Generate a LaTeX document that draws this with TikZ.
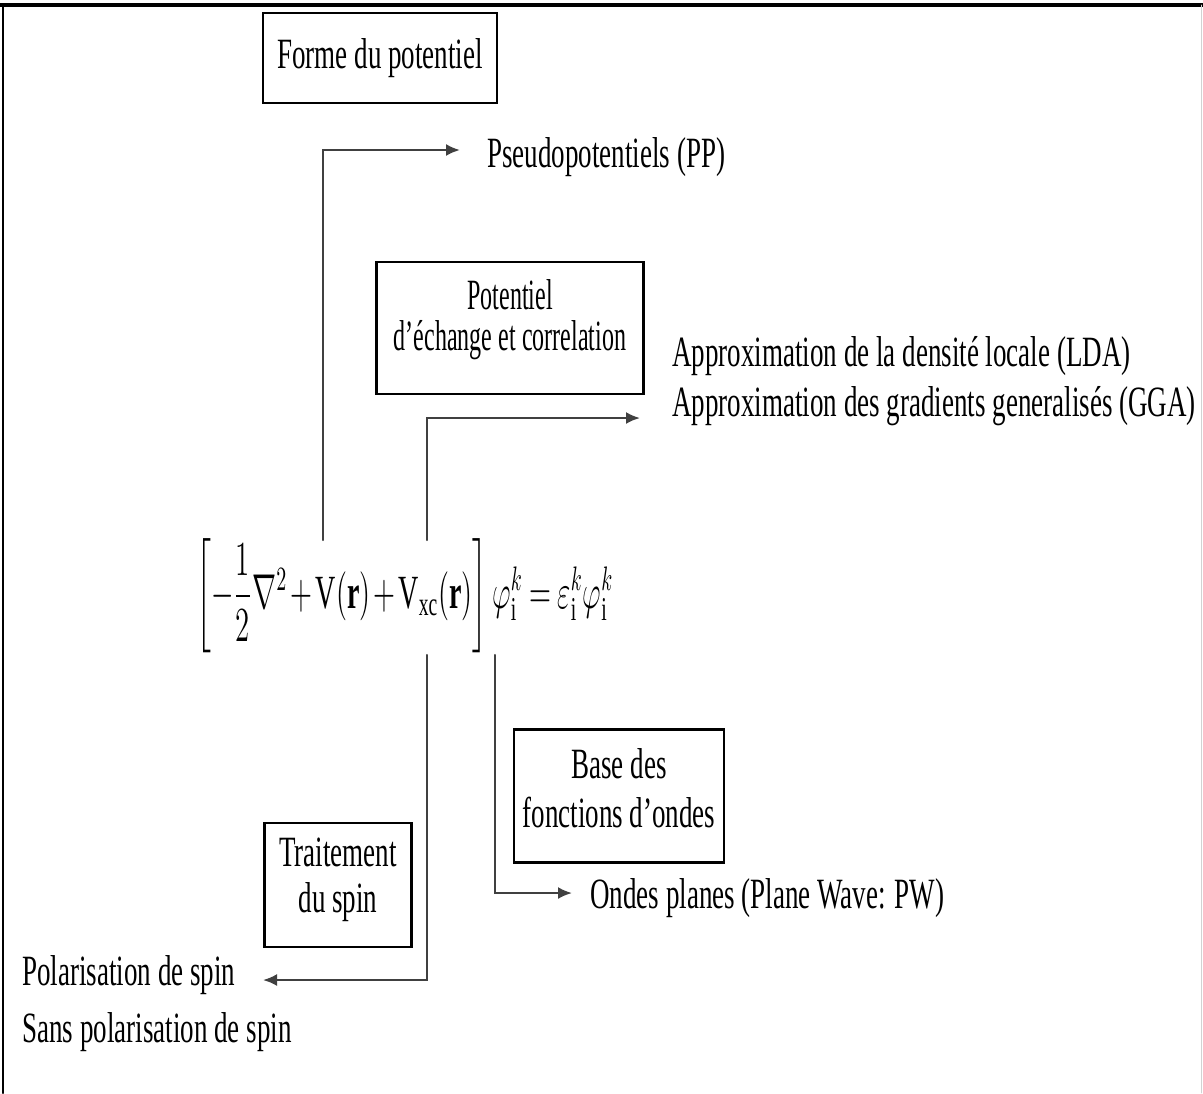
\documentclass[tikz,border=0pt]{standalone}
\usepackage{amsmath,amssymb}
\usepackage{fontspec}
\setmainfont{Liberation Serif}
\usepackage{tikz}
\usetikzlibrary{arrows.meta}

\begin{document}
\begin{tikzpicture}[x=0.5pt,y=-0.5pt,>={Latex[length=7pt,width=6pt]},line cap=round,
  lbl/.style={font=\fontsize{13.5}{14.5}\selectfont,yscale=1.6,inner sep=0pt},
  boxed/.style={draw,line width=1.1pt,align=center,font=\fontsize{13.5}{14.5}\selectfont,yscale=1.6,inner sep=0pt},
  conn/.style={->,line width=1.1pt,black!75}]
\useasboundingbox (0,0) rectangle (1203,1093);
\draw[line width=1.6pt] (0,5) -- (1203,5);
\draw[line width=1pt] (3,5) -- (3,1093);
\draw[gray!35] (1201,5) -- (1201,1093);
\node[boxed,minimum width=117pt,minimum height=28.1pt] (fp) at (380,58) {Forme du potentiel};
\node[boxed,xscale=0.89,minimum width=150pt,minimum height=41.3pt] (xc) at (510,328) {Potentiel\\[-1.5pt]d'échange et correlation\rule[-8pt]{0pt}{8pt}};
\node[boxed,minimum width=105pt,minimum height=41.6pt] (bw) at (619,796) {Base des\\[1pt]fonctions d'ondes\rule[-5pt]{0pt}{5pt}};
\node[boxed,minimum width=73.5pt,minimum height=38.8pt] (sp) at (338,885) {Traitement\\du spin\rule[-6pt]{0pt}{6pt}};
\node[font=\fontsize{14}{18}\selectfont,yscale=1.7,inner sep=0pt,anchor=west] (eq) at (196,596)
  {\medmuskip=2mu\thickmuskip=4mu$\left[-\dfrac{1}{2}\nabla^{2}+\mathrm{V}(\mathbf{r})+\mathrm{V}_{\mathrm{xc}}(\mathbf{r})\right]\varphi_{\mathrm{i}}^{k}=\varepsilon_{\mathrm{i}}^{k}\varphi_{\mathrm{i}}^{k}$};
\node[lbl,anchor=base west] (pp) at (487,167) {Pseudopotentiels (PP)};
\node[lbl,anchor=base west] (lda) at (672,366) {Approximation de la densité locale (LDA)};
\node[lbl,anchor=base west] (gga) at (672,416) {Approximation des gradients generalisés (GGA)};
\node[lbl,anchor=base west] (pw) at (590,908) {Ondes planes (Plane Wave: PW)};
\node[lbl,anchor=base west] (pol) at (22,985) {Polarisation de spin};
\node[lbl,anchor=base west] (sans) at (22,1042) {Sans polarisation de spin};
\coordinate (up1) at (323,540);
\coordinate (up2) at (427,540);
\coordinate (dn1) at (427,655);
\coordinate (dn2) at (495,655);
\coordinate (ppin) at (460,150);
\coordinate (xcin) at (640,418);
\coordinate (spin) at (263,980);
\coordinate (pwin) at (572,893);
\draw[conn] (up1) |- (ppin);
\draw[conn] (up2) |- (xcin);
\draw[conn] (dn1) |- (spin);
\draw[conn] (dn2) |- (pwin);
\end{tikzpicture}
\end{document}
